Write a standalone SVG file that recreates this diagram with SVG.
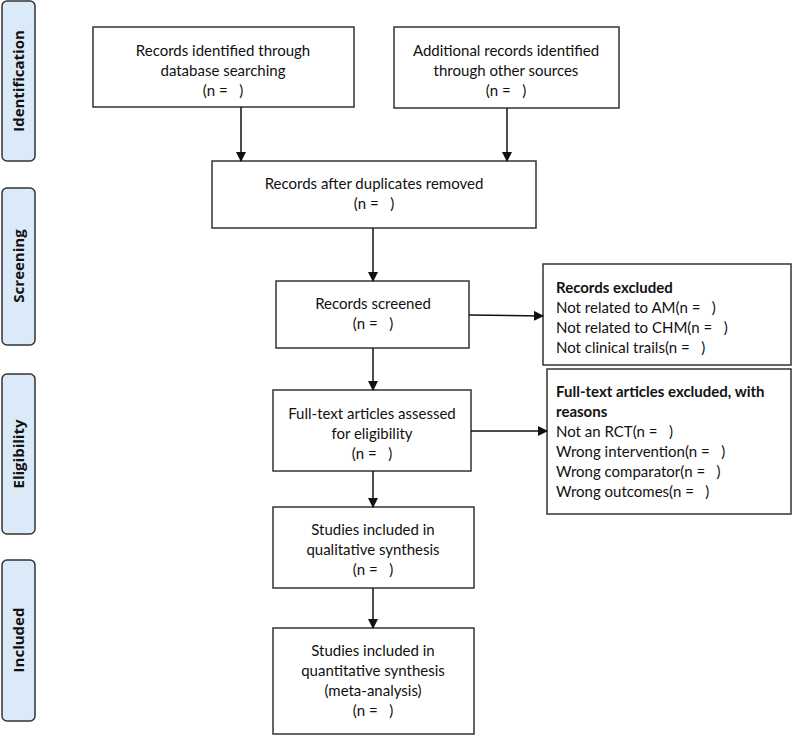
<svg xmlns="http://www.w3.org/2000/svg" width="800" height="735" viewBox="0 0 800 735">
<defs>
<marker id="ah" markerWidth="10" markerHeight="10" refX="9" refY="5" orient="auto" markerUnits="userSpaceOnUse">
<path d="M0,0 L10,5 L0,10 z" fill="#111"/>
</marker>
<style>
.box{fill:#fff;stroke:#333;stroke-width:1.5}
.side{fill:#dbeaf8;stroke:#333;stroke-width:1.5}
.t{font-family:Lato,"Liberation Sans",sans-serif;font-size:15px;fill:#111}
.c{text-anchor:middle}
.b{font-weight:bold}
.s{font-family:"Open Sans","Liberation Sans",sans-serif;font-size:15px;font-weight:bold;fill:#111;text-anchor:middle}
.ln{stroke:#111;stroke-width:1.5;fill:none;marker-end:url(#ah)}
</style>
</defs>
<rect width="800" height="735" fill="#fff"/>
<g id="phase-identification"><rect class="side" x="2" y="1" width="33" height="160" rx="5"/><text class="s" transform="translate(24,81) rotate(-90)">Identification</text></g>
<g id="phase-screening"><rect class="side" x="2" y="188" width="33" height="157" rx="5"/><text class="s" transform="translate(24,266) rotate(-90)">Screening</text></g>
<g id="phase-eligibility"><rect class="side" x="2" y="374" width="33" height="160" rx="5"/><text class="s" transform="translate(24,454) rotate(-90)">Eligibility</text></g>
<g id="phase-included"><rect class="side" x="2" y="560" width="33" height="161" rx="5"/><text class="s" transform="translate(24,640) rotate(-90)">Included</text></g>

<g id="db"><rect class="box" x="93" y="27" width="261" height="80"/>
<text class="t c" x="223" y="56">Records identified through</text>
<text class="t c" x="223" y="76">database searching</text>
<text class="t c" x="223" y="96">(n = &#160;&#160;)</text></g>
<g id="other"><rect class="box" x="394" y="27" width="225" height="81"/>
<text class="t c" x="506" y="56">Additional records identified</text>
<text class="t c" x="506" y="76">through other sources</text>
<text class="t c" x="506" y="96">(n = &#160;&#160;)</text></g>
<g id="dup"><rect class="box" x="212" y="161" width="324" height="67"/>
<text class="t c" x="374" y="189">Records after duplicates removed</text>
<text class="t c" x="374" y="209">(n = &#160;&#160;)</text></g>
<g id="screened"><rect class="box" x="276" y="281" width="193" height="67"/>
<text class="t c" x="373" y="309">Records screened</text>
<text class="t c" x="373" y="329">(n = &#160;&#160;)</text></g>
<g id="excl1"><rect class="box" x="543" y="264" width="248" height="101"/>
<text class="t b" x="556" y="293">Records excluded</text>
<text class="t" x="556" y="313">Not related to AM(n = &#160;&#160;)</text>
<text class="t" x="556" y="333">Not related to CHM(n = &#160;&#160;)</text>
<text class="t" x="556" y="353">Not clinical trails(n = &#160;&#160;)</text></g>
<g id="fulltext"><rect class="box" x="273" y="390" width="198" height="81"/>
<text class="t c" x="372" y="419">Full-text articles assessed</text>
<text class="t c" x="372" y="439">for eligibility</text>
<text class="t c" x="372" y="459">(n = &#160;&#160;)</text></g>
<g id="excl2"><rect class="box" x="547" y="369" width="244" height="145"/>
<text class="t b" x="556" y="397">Full-text articles excluded, with</text>
<text class="t b" x="556" y="417">reasons</text>
<text class="t" x="556" y="437">Not an RCT(n = &#160;&#160;)</text>
<text class="t" x="556" y="457">Wrong intervention(n = &#160;&#160;)</text>
<text class="t" x="556" y="477">Wrong comparator(n = &#160;&#160;)</text>
<text class="t" x="556" y="497">Wrong outcomes(n = &#160;&#160;)</text></g>
<g id="qual"><rect class="box" x="273" y="507" width="201" height="81"/>
<text class="t c" x="373" y="535">Studies included in</text>
<text class="t c" x="373" y="555">qualitative synthesis</text>
<text class="t c" x="373" y="575">(n = &#160;&#160;)</text></g>
<g id="quant"><rect class="box" x="273" y="628" width="201" height="106"/>
<text class="t c" x="373" y="656">Studies included in</text>
<text class="t c" x="373" y="676">quantitative synthesis</text>
<text class="t c" x="373" y="696">(meta-analysis)</text>
<text class="t c" x="373" y="716">(n = &#160;&#160;)</text></g>

<g id="connectors">
<line class="ln" x1="241" y1="107" x2="241" y2="161"/>
<line class="ln" x1="507" y1="108" x2="507" y2="161"/>
<line class="ln" x1="373" y1="228" x2="373" y2="281"/>
<line class="ln" x1="469" y1="315" x2="543" y2="316"/>
<line class="ln" x1="373" y1="348" x2="373" y2="390"/>
<line class="ln" x1="471" y1="431" x2="547" y2="431"/>
<line class="ln" x1="373" y1="471" x2="373" y2="507"/>
<line class="ln" x1="373" y1="588" x2="373" y2="628"/>
</g>
</svg>
